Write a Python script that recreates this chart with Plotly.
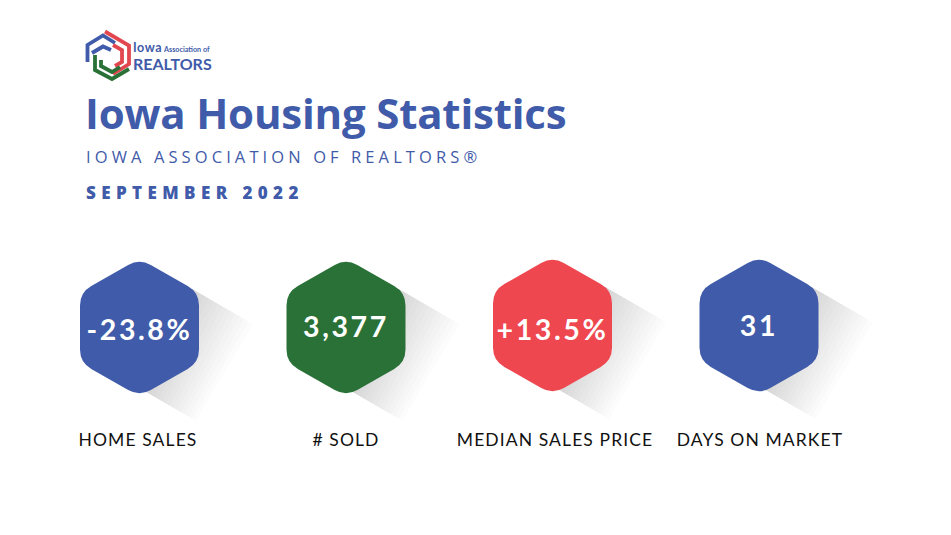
import plotly.graph_objects as go

# values
stat_values = ["-23.8%", "3,377", "+13.5%", "31"]
stat_labels = ["HOME SALES", "# SOLD", "MEDIAN SALES PRICE", "DAYS ON MARKET"]
title_text = "Iowa Housing Statistics"
subtitle_text = "IOWA ASSOCIATION OF REALTORS®"
date_text = "SEPTEMBER 2022"

# layout (page pixels)
hex_x = [139.5, 346, 552.5, 759]
hex_y = [327.5, 327.5, 325.5, 325.5]
value_y = [333, 330, 333, 329]
label_x = [138, 346, 555, 760]
hex_colors = ["#3f5ba9", "#2a7138", "#ee474f", "#3f5ba9"]
BLUE = "#3f5ba9"
RED = "#e2474f"
GREEN = "#2a7138"


def hex_points(cx, cy, hw=59.5, side=35, tip=69):
    return [(cx, cy - tip), (cx + hw, cy - side), (cx + hw, cy + side),
            (cx, cy + tip), (cx - hw, cy + side), (cx - hw, cy - side)]


def rounded_path(pts, r=13):
    path = ""
    n = len(pts)
    for i in range(n):
        px, py = pts[i - 1]
        x, y = pts[i]
        nx, ny = pts[(i + 1) % n]
        d1 = ((px - x) ** 2 + (py - y) ** 2) ** 0.5
        d2 = ((nx - x) ** 2 + (ny - y) ** 2) ** 0.5
        a = (x + (px - x) * r / d1, y + (py - y) * r / d1)
        b = (x + (nx - x) * r / d2, y + (ny - y) * r / d2)
        path += ("M" if i == 0 else "L") + f"{a[0]:.1f},{a[1]:.1f}"
        path += f"Q{x:.1f},{y:.1f} {b[0]:.1f},{b[1]:.1f}"
    return path + "Z"


def poly_path(pts, close=True):
    return "M" + "L".join(f"{x:.1f},{y:.1f}" for x, y in pts) + ("Z" if close else "")


shapes = []

# long shadows: stacked faint sweeps, longer ones on top of shorter ones
for cx, cy in zip(hex_x, hex_y):
    a = (cx + 52, cy - 39)
    c = (cx + 4, cy + 63)
    for i in range(1, 15):
        dx, dy = i * 4.4, i * 2.55
        shapes.append(dict(type="path", path=poly_path([a, (a[0] + dx, a[1] + dy),
                                                        (c[0] + dx * 0.85, c[1] + dy * 0.85), c]),
                           fillcolor="rgba(60,60,70,0.017)", line_width=0, layer="below"))

for cx, cy, col in zip(hex_x, hex_y, hex_colors):
    shapes.append(dict(type="path", path=rounded_path(hex_points(cx, cy)),
                       fillcolor=col, line_width=0, layer="below"))

# logo chevrons
logo = [
    ([(87.5, 62), (87.5, 45), (103, 35.5), (115, 43)], BLUE),
    ([(92, 53), (103, 46.5), (111, 50)], BLUE),
    ([(105, 31.5), (129, 45.5), (129, 64), (113, 74)], RED),
    ([(113, 45), (122, 50), (122, 62), (115, 66)], RED),
    ([(95, 55), (95, 70), (112, 79), (129, 69)], GREEN),
    ([(101, 60), (101, 66), (112, 72), (120, 67)], GREEN),
]
for pts, col in logo:
    shapes.append(dict(type="path", path=poly_path(pts, close=False), line=dict(color=col, width=3.8),
                       layer="below"))

fig = go.Figure()


def add_text(x, y, text, font, pos="middle right"):
    fig.add_trace(go.Scatter(x=x, y=y, text=text, mode="text", textposition=pos,
                             textfont=font, hoverinfo="skip", showlegend=False))


add_text([85], [118], [title_text], dict(family="Open Sans", size=42, color=BLUE, weight=700))
add_text([86], [159], [subtitle_text], dict(family="Open Sans", size=16.5, color=BLUE))
add_text([86], [194.5], [date_text], dict(family="Open Sans", size=17, color=BLUE, weight=800))
add_text(hex_x, value_y, stat_values, dict(family="Lato", size=28.5, color="white", weight=700), "middle center")
add_text(label_x, [442] * 4, stat_labels, dict(family="Lato", size=17.5, color="#111111"), "middle center")
add_text([133], [48.5], ["Iowa"], dict(family="Lato", size=12.5, color=BLUE, weight=700))
add_text([164], [50.5], ["Association of"], dict(family="Lato", size=7.2, color=BLUE, weight=700))
add_text([133], [65.5], ["REALTORS"], dict(family="Lato", size=16, color=BLUE, weight=700))

fig.update_layout(
    width=951, height=535,
    margin=dict(l=0, r=0, t=0, b=0),
    paper_bgcolor="white", plot_bgcolor="white",
    shapes=shapes,
    xaxis=dict(range=[0, 951], visible=False, fixedrange=True),
    yaxis=dict(range=[535, 0], visible=False, fixedrange=True),
)

# plotly has no letter spacing option for text
tracking = {title_text: -0.2, subtitle_text: 4.1, date_text: 5.4, "Iowa": 0.6}
for t in stat_values:
    tracking[t] = 2.6
for t in stat_labels:
    tracking[t] = 1.1
spacing_js = """
document.body.style.margin = '0';
var sp = %s;
var gd = document.getElementById('{plot_id}');
function track() {
  gd.querySelectorAll('.textpoint text').forEach(function (el) {
    if (el.textContent in sp) el.style.letterSpacing = sp[el.textContent] + 'px';
  });
}
track();
gd.on('plotly_afterplot', track);
""" % str(tracking)

fig.write_html("out.html", post_script=spacing_js, config={"displayModeBar": False})
